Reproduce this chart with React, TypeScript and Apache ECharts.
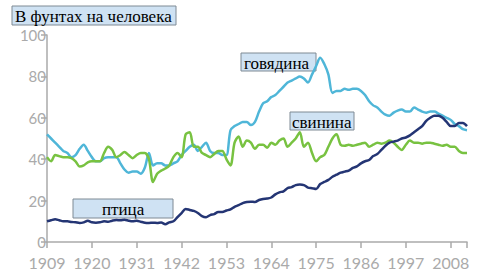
import React, { useEffect, useRef } from "react";
import * as echarts from "echarts";

const years: string[] = [];
for (let y = 1909; y <= 2012; y++) years.push(String(y));

const beef = [
  52, 50, 48, 46, 44, 43, 41, 42, 45, 47,
  44, 41, 39, 39, 40.5, 41, 41, 41, 38, 35,
  33.5, 34, 34, 33, 36, 43, 37, 38, 38, 37,
  37, 38, 39, 42, 44, 46, 47, 44, 46, 48,
  44, 43, 43, 42, 42, 54, 56, 57, 58, 58,
  56.5, 58, 63, 67, 68, 70, 71, 73, 75, 77,
  78, 79, 80, 79, 77, 81, 85, 89, 86, 81,
  72, 73, 73, 74, 73.5, 74, 74, 73, 71, 68,
  66, 65, 63, 61.5, 61, 62.5, 63.5, 64, 63, 63,
  65, 64, 63, 62.5, 63, 63, 62, 61, 60, 59,
  57, 56, 54.5, 54,
];

const pork = [
  41, 39, 42, 41.5, 41, 41, 40.5, 39, 36.5, 37,
  38.5, 39, 39, 39, 43, 46, 44.5, 41, 42, 43.5,
  42, 40.5, 42, 43, 43, 40, 29, 33, 34.5, 35.5,
  37, 41, 43, 41, 52, 53, 46, 46, 43, 42,
  41, 42.5, 44, 44, 40, 37, 48, 51, 46, 49,
  48, 45, 47, 47, 45.5, 48, 47, 49, 50, 46,
  48, 50, 53, 46, 48, 43, 39, 41, 42, 46,
  50, 52, 47, 46.5, 47, 46.5, 47, 47.5, 48, 46,
  47, 48, 47.5, 48, 49, 48, 46, 44.5, 47, 49,
  48, 48, 47.5, 48, 48, 47.5, 47, 46.5, 47, 46,
  46, 44, 43, 43,
];

const poultry = [
  10, 10.5, 11, 10.5, 10, 10, 9.7, 9.5, 9.2, 9.5,
  10.3, 9.5, 9.3, 9.5, 10, 9.8, 10.3, 10.6, 10.5, 10.8,
  10.3, 10, 10.3, 9.8, 9.3, 9.2, 9.3, 9.2, 9.4, 8.6,
  9.5, 10, 12, 14, 16, 15.5, 15, 14, 12.5, 12,
  13, 13.5, 14.5, 14.5, 15.2, 15.8, 17, 17.8, 18.8, 19.3,
  19.5, 19.3, 20.3, 20.8, 21, 21.5, 23, 24, 24.5, 26,
  26.5, 27.5, 27.8, 27.5, 26.3, 26, 25.6, 28, 29, 30,
  31.5, 32.5, 33.5, 34, 34.5, 35.8, 36.5, 38, 39, 39.6,
  41.5, 42.5, 44.5, 46.5, 48, 48.5, 49, 50, 50.5, 51.5,
  53, 54.5, 56, 58.5, 60, 61, 61, 60, 58, 56,
  56, 57.5, 57.5, 56,
];

const title = "В фунтах на человека";
const seriesLabels = ["говядина", "свинина", "птица"];

const AXIS = "#aaaaaa";
const BOXFILL = "#cfe2f3";
const BOXLINE = "#7f8a94";
const SERIF = "'Liberation Serif', 'DejaVu Serif', serif";
const SANS = "Lato, 'Open Sans', sans-serif";

function box(x: number, y: number, w: number, h: number, text: string, tx: number) {
  return {
    type: "group",
    x,
    y,
    children: [
      {
        type: "rect",
        shape: { x: 0, y: 0, width: w, height: h },
        style: { fill: BOXFILL, stroke: BOXLINE, lineWidth: 1 },
      },
      {
        type: "text",
        x: tx,
        y: h / 2 + 1,
        style: {
          text,
          fill: "#000",
          font: `17px ${SERIF}`,
          lineHeight: 16,
          verticalAlign: "middle",
        },
      },
    ],
  };
}

export default function App() {
  const ref = useRef<HTMLDivElement>(null);
  useEffect(() => {
    if (!ref.current) return;
    const chart = echarts.init(ref.current, null, { renderer: "svg" });
    chart.setOption({
      animation: false,
      grid: { left: 47, right: 25, top: 35, bottom: 33 },
      xAxis: {
        type: "category",
        data: years,
        boundaryGap: false,
        axisLine: { lineStyle: { color: AXIS, width: 1.5 } },
        axisTick: {
          show: true,
          length: 6,
          interval: (i: number) => i % 11 === 0 || i === years.length - 1,
          lineStyle: { color: AXIS, width: 1.5 },
        },
        axisLabel: {
          interval: (i: number) => i % 11 === 0,
          color: AXIS,
          fontSize: 16,
          fontFamily: SANS,
          margin: 12,
          hideOverlap: false,
        },
        splitLine: { show: false },
      },
      yAxis: {
        type: "value",
        min: 0,
        max: 100,
        interval: 20,
        axisLine: { show: true, lineStyle: { color: AXIS, width: 1.5 } },
        axisTick: { show: true, length: 6, lineStyle: { color: AXIS, width: 1.5 } },
        axisLabel: {
          color: AXIS,
          fontSize: 15,
          lineHeight: 12,
          fontFamily: SANS,
          margin: 1,
        },
        splitLine: { show: false },
      },
      series: [
        {
          name: seriesLabels[0],
          type: "line",
          data: beef,
          showSymbol: false,
          smooth: 0.3,
          lineStyle: { color: "#4fb6d8", width: 2.5 },
        },
        {
          name: seriesLabels[1],
          type: "line",
          data: pork,
          showSymbol: false,
          smooth: 0.3,
          lineStyle: { color: "#78c241", width: 2.5 },
        },
        {
          name: seriesLabels[2],
          type: "line",
          data: poultry,
          showSymbol: false,
          smooth: 0.3,
          lineStyle: { color: "#243574", width: 2.5 },
        },
      ],
      graphic: [
        box(12, 6, 164, 19, title, 3),
        box(241, 53, 75, 18, seriesLabels[0], 3),
        box(290, 112, 64, 18, seriesLabels[1], 2),
        box(73, 199, 100, 19, seriesLabels[2], 29),
      ],
    });
    return () => chart.dispose();
  }, []);
  return (
    <div
      ref={ref}
      style={{ position: "fixed", left: 0, top: 0, width: 492, height: 275, background: "#fff" }}
    />
  );
}
